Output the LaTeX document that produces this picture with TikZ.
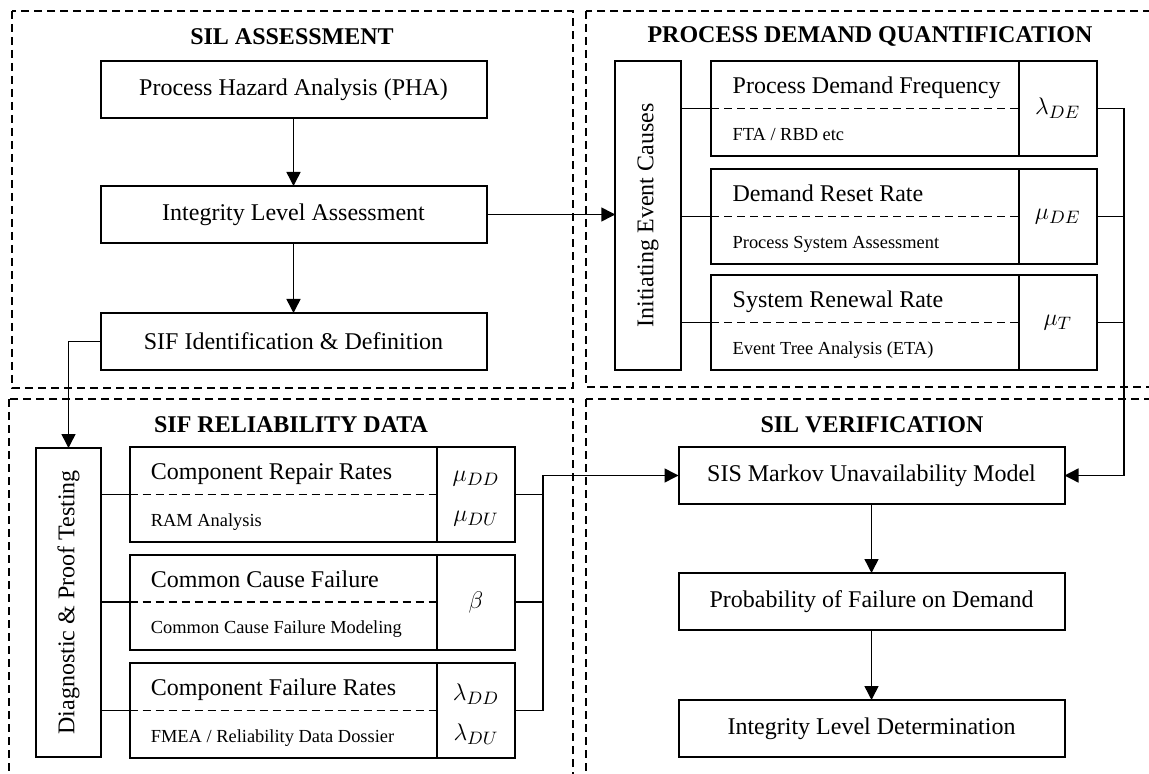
\documentclass[tikz,border=0pt]{standalone}
\usepackage{fontspec}
\setmainfont{Liberation Serif}
\usetikzlibrary{arrows.meta}
\begin{document}
\begin{tikzpicture}[x=0.5pt,y=-0.5pt,
  mainfont/.style={font=\fontsize{12}{14}\selectfont},
  grp/.style={draw, line width=0.75pt, dash pattern=on 4pt off 2.5pt},
  ttl/.style={font=\fontsize{12}{14}\selectfont\bfseries, inner sep=0pt},
  box/.style={draw, line width=1pt, minimum width=193pt, minimum height=28.5pt, inner sep=0pt, outer sep=0pt, mainfont},
  vbox/.style={draw, line width=1pt, minimum width=32.75pt, minimum height=154.5pt, inner sep=0pt, outer sep=0pt},
  lbox/.style={draw, line width=1pt, minimum width=153.75pt, minimum height=47.5pt, inner sep=0pt, outer sep=0pt},
  rbox/.style={draw, line width=1pt, minimum width=39pt, minimum height=47.5pt, inner sep=0pt, outer sep=0pt, anchor=west},
  hd/.style={mainfont, inner sep=0pt, anchor=base west},
  sub/.style={font=\fontsize{9.2}{11}\selectfont, inner sep=0pt, anchor=base west},
  mth/.style={font=\fontsize{13}{15}\selectfont, inner sep=0pt},
  ln/.style={line width=0.75pt},
  dl/.style={line width=0.75pt, dash pattern=on 4pt off 2.5pt},
  arr/.style={line width=0.75pt, -{Triangle[length=7pt,width=7pt]}}]
\useasboundingbox (0,0) rectangle (1149,774);
\fill[white] (0,0) rectangle (1149,774);

% group frames
\draw[grp] (12,11) rectangle (573,388);
\draw[grp] (586,11) rectangle (1175,387);
\draw[grp] (9,399) rectangle (573,795);
\draw[grp] (586,399) rectangle (1175,795);

% titles
\node[ttl] (t1) at (292,37) {SIL ASSESSMENT};
\node[ttl] (t2) at (870,37) {PROCESS DEMAND QUANTIFICATION};
\node[ttl] (t3) at (291,425) {SIF RELIABILITY DATA};
\node[ttl] (t4) at (872,425) {SIL VERIFICATION};

% SIL assessment
\node[box] (pha) at (293.5,89.5) {Process Hazard Analysis (PHA)};
\node[box] (ila) at (293.5,214.5) {Integrity Level Assessment};
\node[box] (sif) at (293.5,341.5) {SIF Identification \& Definition};

% process demand quantification
\node[vbox] (iec) at (648,215.5) {};
\node[mainfont, rotate=90, inner sep=0pt] (iect) at (iec.center) {Initiating Event Causes};

\node[lbox] (pdfl) at (865,108.5) {};
\node[rbox] (pdfr) at (pdfl.east) {};
\node[lbox] (drrl) at (865,216.5) {};
\node[rbox] (drrr) at (drrl.east) {};
\node[lbox] (srrl) at (865,322.5) {};
\node[rbox] (srrr) at (srrl.east) {};

\node[hd] (pdfa) at ([shift={(21,-15)}]pdfl.west) {Process Demand Frequency};
\node[sub] (pdfb) at ([shift={(21,32)}]pdfl.west) {FTA / RBD etc};
\node[hd] (drra) at ([shift={(21,-15)}]drrl.west) {Demand Reset Rate};
\node[sub] (drrb) at ([shift={(21,32)}]drrl.west) {Process System Assessment};
\node[hd] (srra) at ([shift={(21,-15)}]srrl.west) {System Renewal Rate};
\node[sub] (srrb) at ([shift={(21,32)}]srrl.west) {Event Tree Analysis (ETA)};

\node[mth] (pdfm) at (pdfr.center) {$\lambda_{DE}$};
\node[mth] (drrm) at (drrr.center) {$\mu_{DE}$};
\node[mth] (srrm) at (srrr.center) {$\mu_{T}$};

\foreach \b in {pdf,drr,srr}{
  \draw[dl] (\b l.west) -- (\b l.east);
  \draw[ln] (iec.east |- \b l.west) -- (\b l.west);
}

% SIF reliability data
\node[vbox] (dpt) at (68.5,602.5) {};
\node[mainfont, rotate=90, inner sep=0pt] (dptt) at (dpt.center) {Diagnostic \& Proof Testing};

\node[lbox] (crrl) at (283.25,494.5) {};
\node[rbox] (crrr) at (crrl.east) {};
\node[lbox] (ccfl) at (283.25,602) {};
\node[rbox] (ccfr) at (ccfl.east) {};
\node[lbox] (cfrl) at (283.25,710.5) {};
\node[rbox] (cfrr) at (cfrl.east) {};

\node[hd] (crra) at ([shift={(21,-15)}]crrl.west) {Component Repair Rates};
\node[sub] (crrb) at ([shift={(21,31.5)}]crrl.west) {RAM Analysis};
\node[hd] (ccfa) at ([shift={(21,-15)}]ccfl.west) {Common Cause Failure};
\node[sub] (ccfb) at ([shift={(21,31.5)}]ccfl.west) {Common Cause Failure Modeling};
\node[hd] (cfra) at ([shift={(21,-15)}]cfrl.west) {Component Failure Rates};
\node[sub] (cfrb) at ([shift={(21,31.5)}]cfrl.west) {FMEA / Reliability Data Dossier};

\node[mth] (crrm1) at ([shift={(0,-16)}]crrr.center) {$\mu_{DD}$};
\node[mth] (crrm2) at ([shift={(0,24)}]crrr.center) {$\mu_{DU}$};
\node[mth] (ccfm) at (ccfr.center) {$\beta$};
\node[mth] (cfrm1) at ([shift={(0,-16)}]cfrr.center) {$\lambda_{DD}$};
\node[mth] (cfrm2) at ([shift={(0,24)}]cfrr.center) {$\lambda_{DU}$};

\foreach \b in {crr,ccf,cfr}{
  \draw[dl] (\b l.west) -- (\b l.east);
  \draw[ln] (dpt.east |- \b l.west) -- (\b l.west);
}

% SIL verification
\node[box] (sis) at (871.5,475.5) {SIS Markov Unavailability Model};
\node[box] (pfd) at (871.5,601.5) {Probability of Failure on Demand};
\node[box] (ild) at (871.5,728.5) {Integrity Level Determination};

% connectors
\draw[arr] (pha) -- (ila);
\draw[arr] (ila) -- (sif);
\draw[arr] (ila.east) -- (ila.east -| iec.west);
\draw[arr] (sif.west) -| (dpt.north);

\draw[ln] (pdfr.east) -- ++(27,0) coordinate (rb);
\draw[ln] (drrr.east) -- (drrr.east -| rb);
\draw[ln] (srrr.east) -- (srrr.east -| rb);
\draw[arr] (rb) |- (sis.east);

\draw[ln] (crrr.east) -- ++(28,0) coordinate (lb);
\draw[ln] (ccfr.east) -- (ccfr.east -| lb);
\draw[ln] (cfrr.east) -- (cfrr.east -| lb) coordinate (lb3);
\draw[arr] (lb3) |- (sis.west);

\draw[arr] (sis) -- (pfd);
\draw[arr] (pfd) -- (ild);
\end{tikzpicture}
\end{document}
